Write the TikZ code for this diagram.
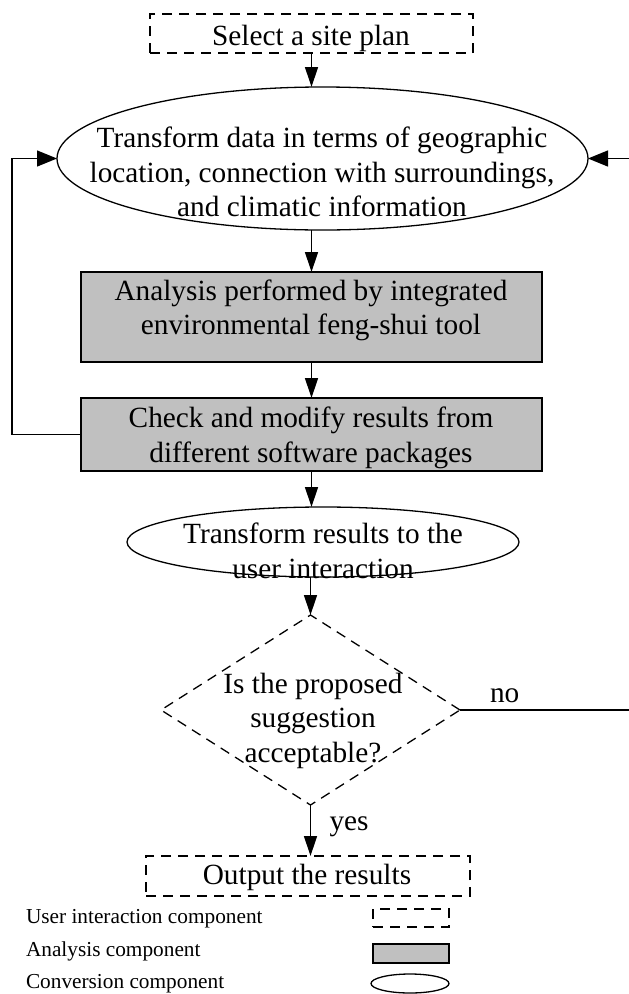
\documentclass[tikz,border=0pt]{standalone}
\usepackage{fontspec}
\setmainfont{Liberation Serif}
\usetikzlibrary{shapes.geometric,arrows.meta}
\definecolor{boxgray}{RGB}{192,192,192}
\begin{document}
\begin{tikzpicture}[x=1pt,y=-1pt,
    every node/.style={inner sep=0pt,outer sep=0pt},
    user/.style={draw,line width=1.3pt,dash pattern=on 10pt off 7pt},
    ana/.style={draw,line width=1.3pt,fill=boxgray},
    conv/.style={draw,line width=1.3pt,ellipse},
    txt/.style={font=\fontsize{29.3}{34.5}\selectfont,align=center},
    small/.style={font=\fontsize{21.3}{25}\selectfont},
    flow/.style={line width=1.3pt,-{Triangle[length=20pt,width=13pt]}},
    back/.style={line width=1.3pt,-{Triangle[length=20pt,width=16pt]}}]
                \useasboundingbox (0,0) rectangle (629,994);
                \node[user,minimum width=323pt,minimum height=39pt] (select) at (311.5,33.5) {};
                \node[conv,minimum width=531pt,minimum height=143pt] (trdata) at (322.5,158.5) {};
                \node[ana,minimum width=461pt,minimum height=90pt] (analysis) at (311.5,317) {};
                \node[ana,minimum width=461pt,minimum height=73pt] (check) at (311.5,434.5) {};
                \node[conv,minimum width=392pt,minimum height=70pt] (trres) at (323,542) {};
                \node[user,diamond,minimum width=299pt,minimum height=190pt] (accept) at (310.5,710) {};
                \node[user,minimum width=324pt,minimum height=40pt] (output) at (308,876) {};

                \node[txt] (seltxt) at (311,38.2) {Select a site plan};
                \node[txt] (trdatatxt) at (322,172) {Transform data in terms of geographic\\location, connection with surroundings,\\and climatic information};
                \node[txt] (anatxt) at (311,310.2) {Analysis performed by integrated\\environmental feng-shui tool};
                \node[txt] (checktxt) at (311,437.7) {Check and modify results from\\different software packages};
                \node[txt] (trrestxt) at (323,550.8) {Transform results to the\\user interaction};
                \node[txt] (accepttxt) at (313,720.7) {Is the proposed\\suggestion\\acceptable?};
                \node[txt] (outtxt) at (307,877.2) {Output the results};

                \draw[flow] (select.south) -- (select.south |- trdata.north);
                \draw[flow] (trdata.south -| analysis.north) -- (analysis.north);
                \draw[flow] (analysis) -- (check);
                \draw[flow] (check.south) -- (check.south |- trres.north);
                \draw[flow] (trres.south -| accept.north) -- (accept.north);
                \draw[flow] (accept.south) -- node[txt,pos=.43,right=19pt] (yes) {yes} (accept.south |- output.north);
                \draw[back] (check.west) -- ++(-69,0) |- (trdata.west);
                \draw[back] (accept.east) -- node[txt,pos=.26,above=7pt] (no) {no} ++(172,0) |- (trdata.east);

                \node[small,anchor=base west] (leguser) at (26,923) {User interaction component};
                \node[user,minimum width=76pt,minimum height=18pt] (keyuser) at (411,918) {};
                \node[small,anchor=base west] (legana) at (26,956) {Analysis component};
                \node[ana,minimum width=76pt,minimum height=19pt] (keyana) at (411,953.5) {};
                \node[small,anchor=base west] (legconv) at (26,988) {Conversion component};
                \node[conv,minimum width=78pt,minimum height=19pt] (keyconv) at (410,983.5) {};
            \end{tikzpicture}
\end{document}
